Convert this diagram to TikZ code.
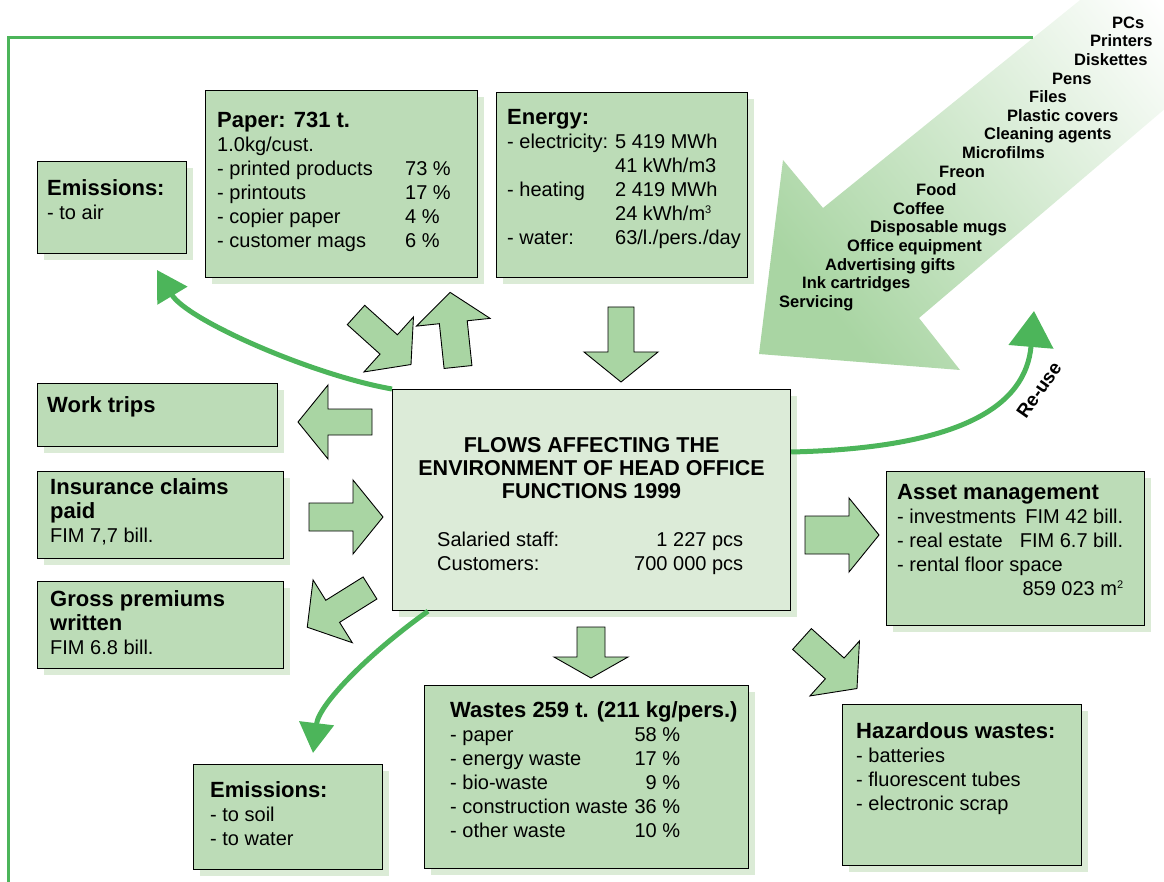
\documentclass[tikz,border=0pt]{standalone}
\usepackage{fontspec}
\setmainfont{Liberation Sans}
\usepackage{xcolor}
\usepackage{tikz}
\usetikzlibrary{arrows.meta,calc,shadows}

\definecolor{boxgreen}{RGB}{188,220,183}
\definecolor{paleboxgreen}{RGB}{220,235,216}
\definecolor{shadowgreen}{RGB}{219,235,214}
\definecolor{arrowgreen}{RGB}{169,213,163}
\definecolor{flowgreen}{RGB}{76,181,90}

\newcommand{\hd}{\fontsize{22}{24}\selectfont\bfseries}
\newcommand{\col}[2]{\makebox[#1][l]{#2}}
\newcommand{\supnum}[1]{\raisebox{7pt}{\fontsize{11}{11}\selectfont #1}}
%% block arrow: tail, angle, length, head length, shaft half width
\newcommand{\blockarrow}[5]{%
  \draw[blockarrow,shift={#1},rotate=#2] (0,-#5) -- ({#3-#4},-#5) -- ({#3-#4},-37) -- (#3,0)
      -- ({#3-#4},37) -- ({#3-#4},#5) -- (0,#5) -- cycle;}

\begin{document}
\begin{tikzpicture}%
                [x=1pt, y=-1pt,
                frame/.style={color=flowgreen, line width=3pt},
                box/.style={draw=black, line width=1.2pt, fill=boxgreen, inner sep=0pt, anchor=north west,
                    drop shadow={shadow xshift=6pt, shadow yshift=-6pt, fill=shadowgreen, opacity=1}},
                txt/.style={anchor=north west, inner sep=0pt, align=left, font=\fontsize{20}{24}\selectfont},
                item/.style={anchor=base west, inner sep=0pt, font=\fontsize{16.5}{18}\selectfont\bfseries},
                blockarrow/.style={draw=black, line width=0.9pt, fill=arrowgreen, line join=miter},
                flow/.style={line width=5pt, color=flowgreen, -{Triangle[width=34pt,length=30pt]}}]

            \useasboundingbox (0,0) rectangle (1164,882);

            %% Incoming goods
            \begin{scope}
              \clip (0,0) rectangle (1164,882);
              \shade[top color=white, bottom color=arrowgreen, shading angle=-51]
                  (1200,-97) -- (823,208) -- (783,160) -- (759,354) -- (960,370) -- (919,318) -- (1200,79) -- cycle;
            \end{scope}
            \foreach \x/\w [count=\i from 0] in {1112/PCs, 1090/Printers, 1074/Diskettes, 1052/Pens,
                1029/Files, 1007/Plastic covers, 984/Cleaning agents, 962/Microfilms, 939/Freon, 916/Food,
                893/Coffee, 870/Disposable mugs, 847/Office equipment, 825/Advertising gifts,
                802/Ink cartridges, 779/Servicing}
              \node[item] (item\i) at (\x,{28.3+18.6*\i}) {\w};

            \draw[frame] (1033,38) -- (8,38) -- (8,882);

            %% Boxes
            \node[box, minimum width=149, minimum height=92] (air) at (37,161) {};
            \node[txt] (airtxt) at ([shift={(10,18)}]air.north west) {{\hd Emissions:}\\- to air};

            \node[box, minimum width=272, minimum height=187] (paper) at (205,90) {};
            \node[txt] (papertxt) at ([shift={(12,22)}]paper.north west)
                {{\hd Paper: 731 t.}\\1.0kg/cust.\\\col{188pt}{- printed products}73 \%\\\col{188pt}{- printouts}17 \%\\
                 \col{188pt}{- copier paper}4 \%\\\col{188pt}{- customer mags}6 \%};

            \node[box, minimum width=251, minimum height=185] (energy) at (496,92) {};
            \node[txt] (energytxt) at ([shift={(11,17)}]energy.north west)
                {{\hd Energy:}\\\col{108pt}{- electricity:}5 419 MWh\\\col{108pt}{}41 kWh/m3\\\col{108pt}{- heating}2 419 MWh\\
                 \col{108pt}{}24 kWh/m\supnum{3}\\\col{108pt}{- water:}63/l./pers./day};

            \node[box, minimum width=240, minimum height=63] (trips) at (37,383) {};
            \node[txt] (tripstxt) at ([shift={(10,13)}]trips.north west) {{\hd Work trips}};

            \node[box, minimum width=246, minimum height=87] (claims) at (37,471) {};
            \node[txt] (claimstxt) at ([shift={(13,7)}]claims.north west) {{\hd Insurance claims}\\{\hd paid}\\FIM 7,7 bill.};

            \node[box, minimum width=246, minimum height=87] (premiums) at (37,581) {};
            \node[txt] (premiumstxt) at ([shift={(13,9)}]premiums.north west) {{\hd Gross premiums}\\{\hd written}\\FIM 6.8 bill.};

            \node[box, fill=paleboxgreen, minimum width=398, minimum height=221] (centre) at (392,389) {};
            \node[anchor=north, inner sep=0pt, align=center, font=\fontsize{21.5}{23}\selectfont\bfseries] (title)
                at ([shift={(0,48)}]centre.north) {FLOWS AFFECTING THE\\ENVIRONMENT OF HEAD OFFICE\\FUNCTIONS 1999};
            \node[txt] (staff) at ([shift={(45,143)}]centre.north west)
                {\makebox[306pt]{Salaried staff:\hfill 1 227 pcs}\\\makebox[306pt]{Customers:\hfill 700 000 pcs}};

            \node[box, minimum width=258, minimum height=154] (asset) at (886,471) {};
            \node[txt] (assettxt) at ([shift={(11,13)}]asset.north west)
                {{\hd Asset management}\\\makebox[226pt]{- investments\hfill FIM 42 bill.}\\
                 \makebox[226pt]{- real estate\hfill FIM 6.7 bill.}\\- rental floor space\\\makebox[226pt][r]{859 023 m\supnum{2}}};

            \node[box, minimum width=239, minimum height=161] (hazard) at (842,704) {};
            \node[txt] (hazardtxt) at ([shift={(14,18)}]hazard.north west)
                {{\hd Hazardous wastes:}\\- batteries\\- fluorescent tubes\\- electronic scrap};

            \node[box, minimum width=189, minimum height=105] (soil) at (193,764) {};
            \node[txt] (soiltxt) at ([shift={(17,17)}]soil.north west) {{\hd Emissions:}\\- to soil\\- to water};

            \node[box, minimum width=324, minimum height=183] (wastes) at (424,685) {};
            \node[txt] (wastestxt) at ([shift={(26,16)}]wastes.north west)
                {{\hd Wastes 259 t. (211 kg/pers.)}\\\makebox[230pt]{- paper\hfill 58 \%}\\\makebox[230pt]{- energy waste\hfill 17 \%}\\
                 \makebox[230pt]{- bio-waste\hfill 9 \%}\\\makebox[230pt]{- construction waste\hfill 36 \%}\\\makebox[230pt]{- other waste\hfill 10 \%}};

            %% Block arrows
            \blockarrow{(621,307)}{-90}{75}{30}{13}
            \blockarrow{(591,627)}{-90}{51}{21}{14}
            \blockarrow{(372,422)}{180}{74}{30}{13}
            \blockarrow{(309,517)}{0}{74}{30}{14}
            \blockarrow{(370,588)}{212}{74}{30}{13}
            \blockarrow{(356,315)}{-42}{74}{30}{13}
            \blockarrow{(458,367)}{96}{75}{30}{14}
            \blockarrow{(805,535)}{0}{74}{30}{19}
            \blockarrow{(802,639)}{-42}{74}{30}{14}

            %% Flows
            \coordinate (airtip) at (157,270);
            \coordinate (soiltip) at (313,753);
            \coordinate (reusetip) at (1034,311);
            \draw[flow] (centre.north west) .. controls +(-80,-14) and +(30,50) .. (airtip);
            \draw[flow] ($(centre.south west)+(36,0)$) .. controls +(-55,39) and +(6,-50) .. (soiltip);
            \draw[flow, -{Triangle[width=44pt,length=36pt]}] ($(centre.north east)+(0,63)$)
                .. controls +(170,-4) and +(-8,95) .. (reusetip);
            \node[font=\fontsize{19}{20}\selectfont\bfseries, rotate=55] (reuse) at (1039,390) {Re-use};
            %%
            \end{tikzpicture}
\end{document}
